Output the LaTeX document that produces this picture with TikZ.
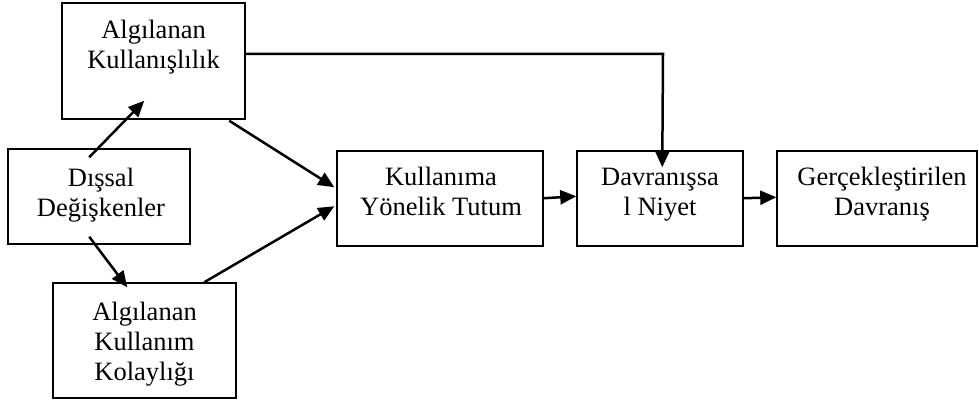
\documentclass[tikz,border=0pt]{standalone}
\usepackage{fontspec}
\setmainfont{Liberation Serif}
\usetikzlibrary{arrows.meta,calc}
\newcommand\tl[1]{\begin{tabular}[t]{@{}c@{}}#1\end{tabular}}
\begin{document}
\begin{tikzpicture}[x=1pt,y=-1pt,
  box/.style={draw,line width=1.5pt,inner sep=0pt},
  lbl/.style={anchor=base,inner sep=0pt,font=\fontsize{26.5}{30}\selectfont},
  arr/.style={line width=2.5pt,-{Triangle[length=16pt,width=14pt]}}]
\useasboundingbox (0,0) rectangle (979,403);
% boxes
\node[box,minimum width=183pt,minimum height=116pt] (ak) at (153.5,61) {};
\node[box,minimum width=182pt,minimum height=95pt] (dis) at (99,196.5) {};
\node[box,minimum width=183pt,minimum height=115pt] (akk) at (144.5,340.5) {};
\node[box,minimum width=206pt,minimum height=95pt] (kul) at (440,198.5) {};
\node[box,minimum width=166pt,minimum height=95pt] (dav) at (660,198.5) {};
\node[box,minimum width=200pt,minimum height=95pt] (ger) at (877,198.5) {};
% texts
\node[lbl] (tak) at (153.5,39) {\tl{Algılanan\\Kullanışlılık}};
\node[lbl] (tdis) at (101,187) {\tl{Dışsal\\Değişkenler}};
\node[lbl] (takk) at (144.5,320) {\tl{Algılanan\\Kullanım\\Kolaylığı}};
\node[lbl] (tkul) at (441,186) {\tl{Kullanıma\\Yönelik Tutum}};
\node[lbl] (tdav) at (660,186) {\tl{Davranışsa\\l Niyet}};
\node[lbl] (tger) at (882,186) {\tl{Gerçekleştirilen\\Davranış}};
% connectors
\coordinate (p1) at (663,54);
\draw[arr] ($(dis.north west)+(82,9)$) -- ($(ak.south west)+(83,-19)$);
\draw[arr] ($(dis.south west)+(82,-8)$) -- ($(akk.north west)+(75,5)$);
\draw[arr] ($(ak.south west)+(168,1)$) -- ($(kul.north west)+(-2,37)$);
\draw[arr] ($(akk.north west)+(152,0)$) -- ($(kul.north west)+(-2,56)$);
\draw[arr] (ak.east |- p1) -- (p1) -- ($(dav.north west)+(86,17)$);
\draw[arr] ($(kul.north east)+(0,48)$) -- ($(dav.north west)+(0,46)$);
\draw[arr] ($(dav.north east)+(0,48)$) -- ($(ger.north west)+(0,47)$);
\end{tikzpicture}
\end{document}
